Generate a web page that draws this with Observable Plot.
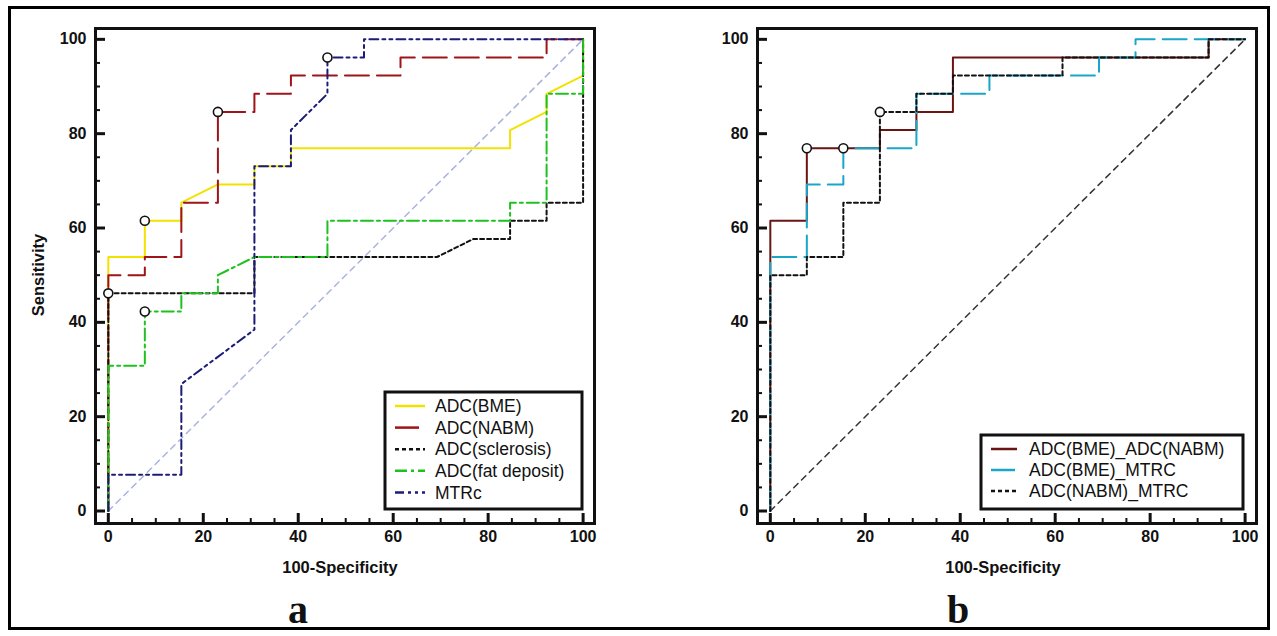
<!DOCTYPE html>
<html><head><meta charset="utf-8">
<script src="https://cdn.jsdelivr.net/npm/d3@7"></script>
<script src="https://cdn.jsdelivr.net/npm/@observablehq/plot@0.6"></script>
<style>
body{margin:0;background:#fff;}
#wrap{position:relative;width:1277px;height:636px;background:#fff;overflow:hidden;font-family:"Liberation Sans",Arial,sans-serif;}
#border{position:absolute;left:8px;top:6px;width:1262px;height:624px;border:3px solid #000;box-sizing:border-box;}
.panel{position:absolute;top:0;}
.ttl{position:absolute;font-weight:bold;font-size:16.5px;color:#111;white-space:nowrap;transform:translate(-50%,-50%);}
.big{position:absolute;font-family:"Liberation Serif","Times New Roman",serif;font-weight:bold;font-size:40px;color:#111;transform:translate(-50%,0);line-height:1;}
</style></head>
<body><div id="wrap"><div id="border"></div>
<div id="pa" class="panel" style="left:0px"></div>
<div id="pb" class="panel" style="left:640px"></div>
<div class="ttl" style="left:38px;top:275px;transform:translate(-50%,-50%) rotate(-90deg)">Sensitivity</div>
<div class="ttl" style="left:340px;top:567px">100-Specificity</div>
<div class="ttl" style="left:1003px;top:567px">100-Specificity</div>
<div class="big" style="left:298px;top:590px">a</div>
<div class="big" style="left:958px;top:590px">b</div>
</div>
<script>
// tick values
const majorTicks = [0, 20, 40, 60, 80, 100];
const minorTicks = [5, 10, 15, 25, 30, 35, 45, 50, 55, 65, 70, 75, 85, 90, 95];

// panel a series: [100-Specificity, Sensitivity]
const adcBME = [[0,0],[0,53.85],[7.69,53.85],[7.69,61.54],[15.38,61.54],[15.38,65.38],[23.08,69.23],[30.77,69.23],[30.77,73.08],[38.46,73.08],[38.46,76.92],[84.62,76.92],[84.62,80.77],[92.31,84.62],[92.31,88.46],[100,92.31],[100,100]];
const adcNABM = [[0,0],[0,50],[7.69,50],[7.69,53.85],[15.38,53.85],[15.38,65.38],[23.08,65.38],[23.08,84.62],[30.77,84.62],[30.77,88.46],[38.46,88.46],[38.46,92.31],[61.54,92.31],[61.54,96.15],[92.31,96.15],[92.31,100],[100,100]];
const adcSclerosis = [[0,0],[0,46.15],[30.77,46.15],[30.77,53.85],[69.23,53.85],[76.92,57.69],[84.62,57.69],[84.62,61.54],[92.31,61.54],[92.31,65.38],[100,65.38],[100,100]];
const adcFat = [[0,0],[0,30.77],[7.69,30.77],[7.69,42.31],[15.38,42.31],[15.38,46.15],[23.08,46.15],[23.08,50],[30.77,53.85],[46.15,53.85],[46.15,61.54],[84.62,61.54],[84.62,65.38],[92.31,65.38],[92.31,88.46],[100,88.46],[100,100]];
const mtrc = [[0,0],[0,7.69],[15.38,7.69],[15.38,26.92],[30.77,38.46],[30.77,73.08],[38.46,73.08],[38.46,80.77],[46.15,88.46],[46.15,96.15],[53.85,96.15],[53.85,100],[100,100]];
const markersA = [[7.69,61.54],[23.08,84.62],[0,46.15],[7.69,42.31],[46.15,96.15]];

// panel b series
const bmeNabm = [[0,0],[0,61.54],[7.69,61.54],[7.69,76.92],[23.08,76.92],[23.08,80.77],[30.77,80.77],[30.77,84.62],[38.46,84.62],[38.46,96.15],[92.31,96.15],[92.31,100],[100,100]];
const bmeMtrc = [[0,0],[0,53.85],[7.69,53.85],[7.69,69.23],[15.38,69.23],[15.38,76.92],[30.77,76.92],[30.77,88.46],[46.15,88.46],[46.15,92.31],[69.23,92.31],[69.23,96.15],[76.92,96.15],[76.92,100],[100,100]];
const nabmMtrc = [[0,0],[0,50],[7.69,50],[7.69,53.85],[15.38,53.85],[15.38,65.38],[23.08,65.38],[23.08,84.62],[30.77,84.62],[30.77,88.46],[38.46,88.46],[38.46,92.31],[61.54,92.31],[61.54,96.15],[92.31,96.15],[92.31,100],[100,100]];
const markersB = [[7.69,76.92],[15.38,76.92],[23.08,84.62]];

const diagonal = [[0,0],[100,100]];

const seriesA = [
  {name: "ADC(BME)", data: adcBME, stroke: "#f2e200", dash: null, w: 2},
  {name: "ADC(NABM)", data: adcNABM, stroke: "#9e1418", dash: "24,8", w: 2},
  {name: "ADC(sclerosis)", data: adcSclerosis, stroke: "#111", dash: "4,3", w: 2},
  {name: "ADC(fat deposit)", data: adcFat, stroke: "#1ec21e", dash: "12,4,3,4", w: 2},
  {name: "MTRc", data: mtrc, stroke: "#1c1c78", dash: "9,4,3,4,3,4", w: 2}
];
const seriesB = [
  {name: "ADC(BME)_ADC(NABM)", data: bmeNabm, stroke: "#6a1414", dash: null, w: 2},
  {name: "ADC(BME)_MTRC", data: bmeMtrc, stroke: "#1aa6c8", dash: "24,8", w: 2},
  {name: "ADC(NABM)_MTRC", data: nabmMtrc, stroke: "#111", dash: "4,3", w: 2}
];

function panel(el, cfg) {
  const svg = Plot.plot({
    width: cfg.width, height: 636,
    marginLeft: cfg.ml, marginRight: cfg.mr, marginTop: 28, marginBottom: 636 - 523,
    x: {domain: [-2.7, 102.4], label: null},
    y: {domain: [-2.65, 102.3], label: null},
    style: {fontFamily: "'Liberation Sans', Arial, sans-serif", background: "transparent", color: "#111", overflow: "visible"},
    marks: [
      Plot.line(diagonal, {x: d => d[0], y: d => d[1], stroke: cfg.refColor, strokeWidth: 1.5, strokeDasharray: "6,5"}),
      ...cfg.series.map(s => Plot.line(s.data, {x: d => d[0], y: d => d[1], stroke: s.stroke, strokeWidth: s.w, strokeDasharray: s.dash})),
      Plot.dot(cfg.markers, {x: d => d[0], y: d => d[1], r: 4.5, stroke: "#111", strokeWidth: 1.6, fill: "white"}),
      Plot.axisY({ticks: minorTicks, tickSize: 5, insetLeft: 5, fill: "none", strokeWidth: 2, label: null}),
      Plot.axisY({ticks: majorTicks, tickSize: 10, insetLeft: 10, tickPadding: 9, strokeWidth: 3, fontSize: 16, fontWeight: "bold", label: null}),
      Plot.axisX({ticks: minorTicks, tickSize: 5, insetBottom: 5, fill: "none", strokeWidth: 2, label: null}),
      Plot.axisX({ticks: majorTicks, tickSize: 10, insetBottom: 10, tickPadding: 7, strokeWidth: 3, fontSize: 16, fontWeight: "bold", label: null}),
      Plot.frame({stroke: "#111", strokeWidth: 3})
    ]
  });
  // legend
  const L = cfg.legend;
  const g = d3.select(svg).append("g").attr("text-anchor", "start");
  g.append("rect").attr("x", L.x).attr("y", L.y).attr("width", L.w).attr("height", L.h)
    .attr("fill", "white").attr("stroke", "#111").attr("stroke-width", 3);
  cfg.series.forEach((s, i) => {
    const yy = L.y + L.first + i * L.step;
    g.append("line").attr("x1", L.x + 10).attr("x2", L.x + 10 + L.sample).attr("y1", yy).attr("y2", yy)
      .attr("stroke", s.stroke).attr("stroke-width", 2.5).attr("stroke-dasharray", s.dash);
    g.append("text").attr("x", L.x + L.tx).attr("y", yy).attr("dy", "0.35em").attr("text-anchor", "start")
      .attr("font-size", L.fs).attr("fill", "#111").text(s.name);
  });
  el.appendChild(svg);
}

panel(document.getElementById("pa"), {
  width: 640, ml: 95, mr: 640 - 594, series: seriesA, markers: markersA, refColor: "#aab3df",
  legend: {x: 385, y: 392, w: 197, h: 117, first: 14, step: 21.6, sample: 30, tx: 50, fs: 17.5}
});
panel(document.getElementById("pb"), {
  width: 637, ml: 117, mr: 637 - 616, series: seriesB, markers: markersB, refColor: "#333",
  legend: {x: 341, y: 435, w: 262, h: 74, first: 14, step: 21, sample: 26, tx: 48, fs: 17.5}
});
</script>
</body></html>
